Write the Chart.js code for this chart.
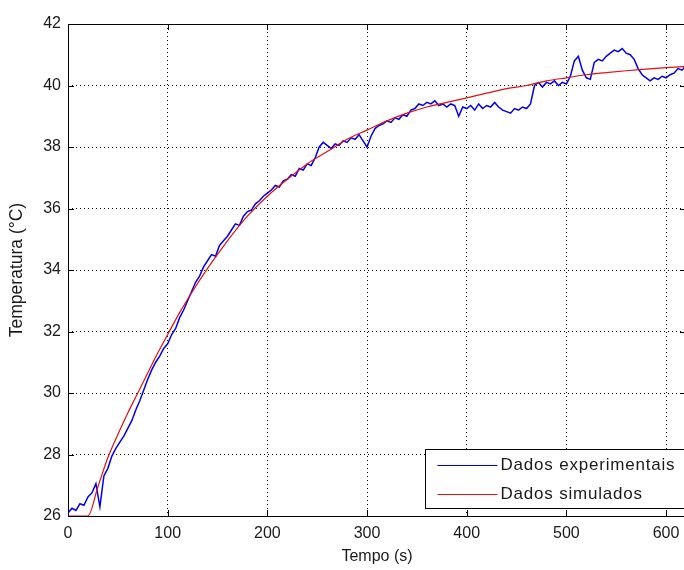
<!DOCTYPE html>
<html>
<head>
<meta charset="utf-8">
<script src="https://cdn.jsdelivr.net/npm/chart.js@4/dist/chart.umd.min.js"></script>
<style>
  html, body { margin: 0; padding: 0; background: #fff; overflow: hidden; }
  canvas { display: block; }
</style>
</head>
<body>
<canvas id="c" width="690" height="570"></canvas>
<script>
// ---- data ----
const expTime = [0,4,8,12,16,20,24,28,32,36,40,44,48,52,56,60,64,68,72,76,80,84,88,92,96,100,104,108,112,116,120,124,128,132,136,140,144,148,152,156,160,164,168,172,176,180,184,188,192,196,200,204,208,212,216,220,224,228,232,236,240,244,248,252,256,260,264,268,272,276,280,284,288,292,296,300,304,308,312,316,320,324,328,332,336,340,344,348,352,356,360,364,368,372,376,380,384,388,392,396,400,404,408,412,416,420,424,428,432,436,440,444,448,452,456,460,464,468,472,476,480,484,488,492,496,500,504,508,512,516,520,524,528,532,536,540,544,548,552,556,560,564,568,572,576,580,584,588,592,596,600,604,608,612,616,620];
const expTemp = [26.10,26.25,26.18,26.40,26.35,26.62,26.75,27.05,26.30,27.30,27.55,27.95,28.20,28.40,28.60,28.85,29.10,29.45,29.75,30.10,30.45,30.75,31.00,31.20,31.45,31.60,31.90,32.10,32.45,32.70,33.00,33.30,33.60,33.80,34.10,34.30,34.50,34.45,34.80,34.95,35.10,35.30,35.50,35.45,35.75,35.90,35.95,36.15,36.25,36.40,36.50,36.60,36.75,36.70,36.90,36.95,37.10,37.05,37.30,37.25,37.45,37.40,37.65,38.00,38.15,38.05,37.95,38.10,38.05,38.20,38.15,38.30,38.25,38.40,38.20,38.00,38.35,38.60,38.70,38.75,38.85,38.80,38.95,38.90,39.05,39.00,39.20,39.25,39.40,39.35,39.45,39.40,39.50,39.35,39.40,39.30,39.40,39.35,39.00,39.30,39.25,39.35,39.20,39.40,39.25,39.35,39.30,39.45,39.30,39.20,39.15,39.10,39.25,39.20,39.30,39.25,39.40,40.00,40.10,39.95,40.10,40.05,40.15,40.00,40.10,40.05,40.30,40.80,40.95,40.50,40.25,40.20,40.75,40.85,40.80,40.95,41.05,41.15,41.10,41.20,41.05,41.00,40.85,40.55,40.35,40.25,40.15,40.25,40.20,40.30,40.25,40.35,40.40,40.55,40.50,40.65];

const simTime = [0,10,20,30,40,50,60,70,80,90,100,110,120,140,160,180,200,220,240,260,280,300,320,340,360,380,400,420,440,460,480,500,520,540,560,580,600,620];
const simTemp = [26.0,26.0,26.0,26.95,27.9,28.65,29.35,30.0,30.65,31.3,31.9,32.5,33.05,34.05,34.95,35.75,36.4,36.95,37.45,37.85,38.25,38.55,38.85,39.1,39.3,39.45,39.6,39.75,39.9,40.0,40.15,40.25,40.35,40.42,40.48,40.53,40.58,40.62];

const xTicks = [0,100,200,300,400,500,600];
const yTicks = [26,28,30,32,34,36,38,40,42];

const seriesNames = ['Dados experimentais', 'Dados simulados'];
const seriesColors = ['#0000ee', '#e01010'];

// ---- plugins ----
const boxPlugin = {
  id: 'matlabBox',
  beforeDatasetsDraw(chart) {
    const {ctx, chartArea: a, scales} = chart;
    ctx.save();
    ctx.strokeStyle = '#000';
    ctx.lineWidth = 1;
    ctx.setLineDash([]);
    ctx.strokeRect(Math.round(a.left) + 0.5, Math.round(a.top) + 0.5, Math.round(a.right - a.left), Math.round(a.bottom - a.top));
    // inward tick marks
    const tl = 6;
    ctx.beginPath();
    xTicks.forEach(v => {
      const px = Math.round(scales.x.getPixelForValue(v)) + 0.5;
      ctx.moveTo(px, a.bottom); ctx.lineTo(px, a.bottom - tl);
      ctx.moveTo(px, a.top); ctx.lineTo(px, a.top + tl);
    });
    yTicks.forEach(v => {
      const py = Math.round(scales.y.getPixelForValue(v)) + 0.5;
      ctx.moveTo(a.left, py); ctx.lineTo(a.left + tl, py);
      ctx.moveTo(a.right, py); ctx.lineTo(a.right - tl, py);
    });
    ctx.stroke();
    ctx.restore();
  },
  afterDatasetsDraw(chart) {
    const {ctx, chartArea: a} = chart;
    ctx.save();
    // legend box inside the axes (bottom-right)
    const bw = 261, bh = 59;
    const bx = Math.round(a.right - bw) + 0.5;
    const by = Math.round(a.bottom - 8 - bh) + 0.5;
    ctx.setLineDash([]);
    ctx.fillStyle = '#fff';
    ctx.fillRect(bx, by, bw, bh);
    ctx.strokeStyle = '#000';
    ctx.lineWidth = 1;
    ctx.strokeRect(bx, by, bw, bh);
    ctx.font = '17px "Liberation Sans", Arial, sans-serif';
    ctx.textBaseline = 'middle';
    ctx.textAlign = 'left';
    try { ctx.letterSpacing = '0.8px'; } catch (e) {}
    const rows = [by + 15, by + 44];
    chart.data.datasets.forEach((ds, i) => {
      ctx.strokeStyle = ds.borderColor;
      ctx.lineWidth = 1.2;
      ctx.beginPath();
      ctx.moveTo(bx + 12, Math.round(rows[i]) + 0.5);
      ctx.lineTo(bx + 72, Math.round(rows[i]) + 0.5);
      ctx.stroke();
      ctx.fillStyle = '#1a1a1a';
      ctx.fillText(ds.label, bx + 75, rows[i] + 1);
    });
    ctx.restore();
  }
};

const font = { family: '"Liberation Sans", Arial, sans-serif', size: 16 };
const yTitleFont = { family: '"Liberation Sans", Arial, sans-serif', size: 17.5 };

new Chart(document.getElementById('c'), {
  type: 'line',
  data: {
    datasets: [
      {
        label: seriesNames[0],
        data: expTime.map((t, i) => ({x: t, y: expTemp[i]})),
        borderColor: seriesColors[0],
        borderWidth: 1.5,
        pointRadius: 0,
        tension: 0,
        fill: false,
        order: 1
      },
      {
        label: seriesNames[1],
        data: simTime.map((t, i) => ({x: t, y: simTemp[i]})),
        borderColor: seriesColors[1],
        borderWidth: 1.2,
        pointRadius: 0,
        tension: 0.35,
        cubicInterpolationMode: 'monotone',
        fill: false,
        order: 0
      }
    ]
  },
  options: {
    responsive: false,
    animation: false,
    layout: { padding: { top: 24, right: 4, left: 0, bottom: 0 } },
    plugins: { legend: { display: false }, tooltip: { enabled: false } },
    scales: {
      x: {
        type: 'linear',
        min: 0, max: 620,
        afterBuildTicks: s => { s.ticks = xTicks.map(v => ({value: v})); },
        afterFit: s => { s.height = 54; },
        grid: { color: '#000', lineWidth: 1, drawTicks: false },
        border: { display: false, dash: [1, 3] },
        ticks: { color: '#1a1a1a', font, padding: 8, maxRotation: 0 },
        title: { display: true, text: 'Tempo (s)', color: '#1a1a1a', font, padding: { top: 0, bottom: 4 } }
      },
      y: {
        type: 'linear',
        min: 26, max: 42,
        afterBuildTicks: s => { s.ticks = yTicks.map(v => ({value: v})); },
        afterFit: s => { s.width = 68; },
        grid: { color: '#000', lineWidth: 1, drawTicks: false },
        border: { display: false, dash: [1, 3] },
        ticks: { color: '#1a1a1a', font, padding: 7 },
        title: { display: true, text: 'Temperatura (°C)', color: '#1a1a1a', font: yTitleFont, padding: { top: 7, bottom: 0 } }
      }
    }
  },
  plugins: [boxPlugin]
});
</script>
</body>
</html>
